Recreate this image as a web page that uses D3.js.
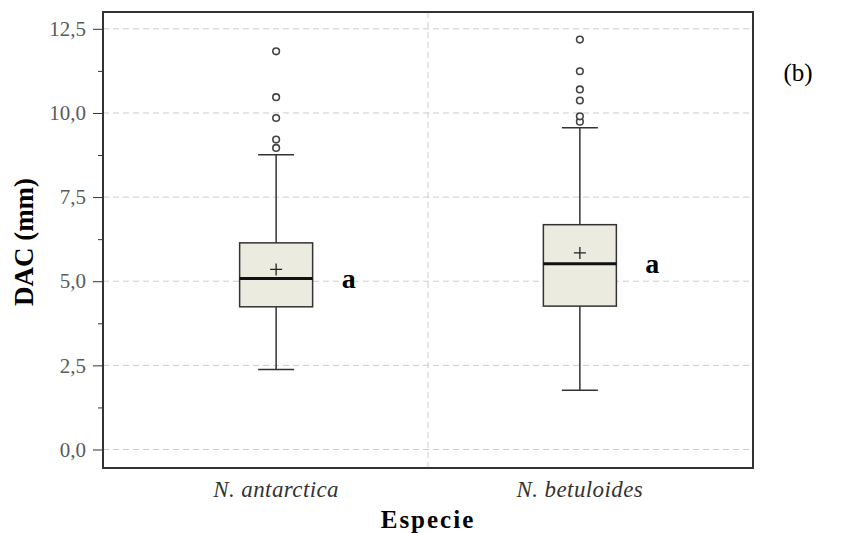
<!DOCTYPE html>
<head>
    <style>
        body { margin: 0; background: #fff; }
        svg { font-family: "Liberation Serif", "Times New Roman", serif; }
    </style>
</head>
<body>
    <script src="https://cdn.jsdelivr.net/npm/d3@7"></script>
    <script>
        // valores
        var species = ['N. antarctica', 'N. betuloides'];
        var lowerWhisker = [2.38, 1.76];
        var q1 = [4.24, 4.26];
        var median = [5.08, 5.52];
        var q3 = [6.14, 6.68];
        var upperWhisker = [8.76, 9.56];
        var mean = [5.35, 5.84];
        var outliers = [
            [8.96, 9.21, 9.85, 10.47, 11.83],
            [9.74, 9.90, 10.37, 10.70, 11.24, 12.18]
        ];
        var letters = ['a', 'a'];
        var yTicks = [0, 2.5, 5, 7.5, 10, 12.5];
        var yMinor = d3.range(1.25, 12.5, 2.5);

        var W = 843, H = 533;
        var pLeft = 103, pRight = 753, pTop = 12, pBottom = 468;

        var svg = d3.select('body').append('svg')
                    .attr('width', W).attr('height', H);

        var y = d3.scaleLinear().domain([-0.55, 13.0]).range([pBottom, pTop]);
        var x = d3.scalePoint().domain(species).range([pLeft, pRight]).padding(0.57);

        var fmt = function(d) { return d3.format('.1f')(d).replace('.', ','); };

        // grid
        svg.append('g').selectAll('line')
           .data(yTicks).enter().append('line')
           .attr('x1', pLeft).attr('x2', pRight)
           .attr('y1', d => y(d)).attr('y2', d => y(d))
           .attr('stroke', '#cccccc').attr('stroke-dasharray', '6,4');
        var midX = (x(species[0]) + x(species[1])) / 2;
        svg.append('line')
           .attr('x1', midX).attr('x2', midX)
           .attr('y1', pTop).attr('y2', pBottom)
           .attr('stroke', '#cccccc').attr('stroke-dasharray', '6,4');

        // eje y
        var yAxis = svg.append('g')
                       .attr('transform', 'translate(' + pLeft + ',0)')
                       .call(d3.axisLeft(y).tickValues(yTicks).tickFormat(fmt).tickSize(10).tickPadding(7));
        yAxis.select('.domain').remove();
        yAxis.selectAll('line').attr('stroke', '#333');
        yAxis.selectAll('text').attr('font-family', '"Liberation Serif", serif')
             .attr('font-size', 21).attr('fill', '#5a5a5a');
        var yAxisMinor = svg.append('g')
                            .attr('transform', 'translate(' + pLeft + ',0)')
                            .call(d3.axisLeft(y).tickValues(yMinor).tickFormat('').tickSize(5));
        yAxisMinor.select('.domain').remove();
        yAxisMinor.selectAll('line').attr('stroke', '#333');

        // cajas
        var bw = 73, cw = 36;
        var g = svg.append('g').selectAll('g')
                   .data(species).enter().append('g');

        g.append('line')
         .attr('x1', d => x(d)).attr('x2', d => x(d))
         .attr('y1', (d, i) => y(upperWhisker[i])).attr('y2', (d, i) => y(lowerWhisker[i]))
         .attr('stroke', '#333').attr('stroke-width', 1.5);
        g.append('line')
         .attr('x1', d => x(d) - cw / 2).attr('x2', d => x(d) + cw / 2)
         .attr('y1', (d, i) => y(upperWhisker[i])).attr('y2', (d, i) => y(upperWhisker[i]))
         .attr('stroke', '#333').attr('stroke-width', 1.5);
        g.append('line')
         .attr('x1', d => x(d) - cw / 2).attr('x2', d => x(d) + cw / 2)
         .attr('y1', (d, i) => y(lowerWhisker[i])).attr('y2', (d, i) => y(lowerWhisker[i]))
         .attr('stroke', '#333').attr('stroke-width', 1.5);
        g.append('rect')
         .attr('x', d => x(d) - bw / 2).attr('width', bw)
         .attr('y', (d, i) => y(q3[i])).attr('height', (d, i) => y(q1[i]) - y(q3[i]))
         .attr('fill', '#ebebe0').attr('stroke', '#333').attr('stroke-width', 1.5);
        g.append('line')
         .attr('x1', d => x(d) - bw / 2).attr('x2', d => x(d) + bw / 2)
         .attr('y1', (d, i) => y(median[i])).attr('y2', (d, i) => y(median[i]))
         .attr('stroke', '#111').attr('stroke-width', 3);
        g.append('path')
         .attr('d', (d, i) => {
             var cx = x(d), cy = y(mean[i]);
             return 'M' + (cx - 6) + ',' + cy + 'H' + (cx + 6) + 'M' + cx + ',' + (cy - 6) + 'V' + (cy + 6);
         })
         .attr('stroke', '#222').attr('stroke-width', 1.3).attr('fill', 'none');
        g.each(function(d, i) {
            d3.select(this).selectAll('circle')
              .data(outliers[i]).enter().append('circle')
              .attr('cx', x(d)).attr('cy', v => y(v)).attr('r', 3.3)
              .attr('fill', '#fff').attr('stroke', '#444').attr('stroke-width', 1.6);
        });
        g.append('text')
         .attr('x', d => x(d) + bw / 2 + 29)
         .attr('y', (d, i) => y(median[i]) + 9)
         .attr('font-size', 28).attr('font-weight', 'bold').attr('fill', '#000')
         .text((d, i) => letters[i]);

        // marco
        svg.append('rect')
           .attr('x', pLeft).attr('y', pTop)
           .attr('width', pRight - pLeft).attr('height', pBottom - pTop)
           .attr('fill', 'none').attr('stroke', '#333').attr('stroke-width', 2);

        // eje x
        svg.append('g').selectAll('text')
           .data(species).enter().append('text')
           .attr('x', d => x(d)).attr('y', 497)
           .attr('text-anchor', 'middle').attr('font-style', 'italic')
           .attr('font-size', 23).attr('letter-spacing', 0.4).attr('fill', '#333')
           .text(d => d);

        svg.append('text')
           .attr('x', midX).attr('y', 528)
           .attr('text-anchor', 'middle').attr('font-weight', 'bold')
           .attr('font-size', 25).attr('letter-spacing', 2)
           .text('Especie');

        svg.append('text')
           .attr('transform', 'translate(33,242) rotate(-90)')
           .attr('text-anchor', 'middle').attr('font-weight', 'bold')
           .attr('font-size', 27)
           .text('DAC (mm)');

        svg.append('text')
           .attr('x', 798).attr('y', 81)
           .attr('text-anchor', 'middle').attr('font-size', 25)
           .text('(b)');
    </script>
</body>
